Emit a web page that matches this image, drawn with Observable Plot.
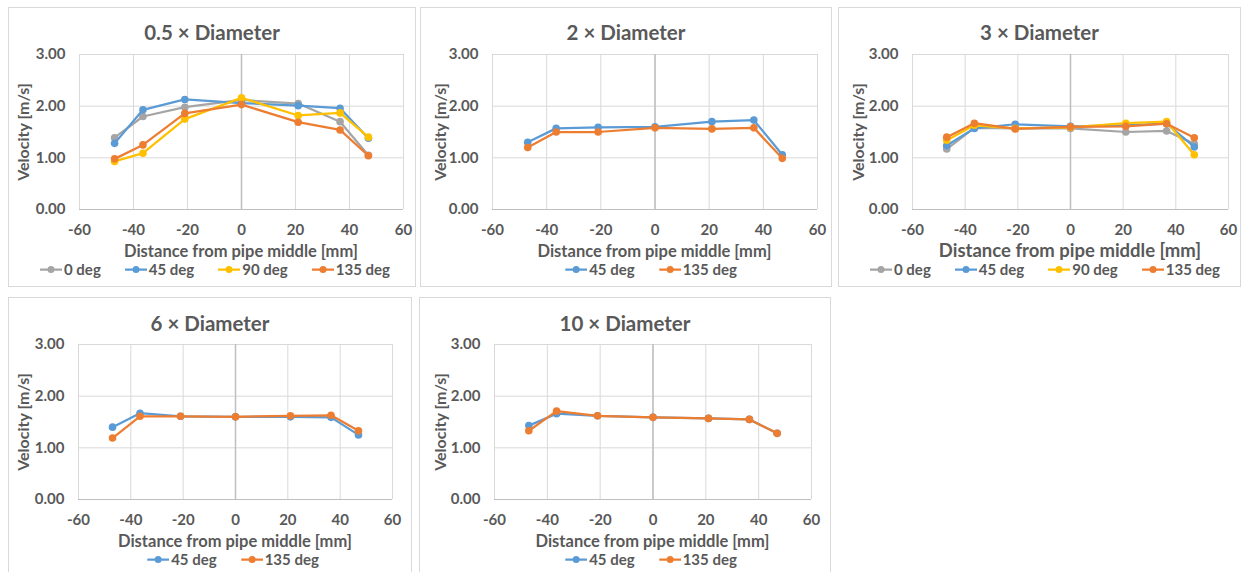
<!DOCTYPE html>
<html><head><meta charset="utf-8">
<script src="https://cdn.jsdelivr.net/npm/d3@7"></script>
<script src="https://cdn.jsdelivr.net/npm/@observablehq/plot@0.6"></script>
<style>
body{margin:0;background:#fff;font-family:Lato,"Open Sans",sans-serif;color:#595959;}
#root{position:relative;width:1243px;height:572px;overflow:hidden;background:#fff;}
.box{position:absolute;border:1px solid #d9d9d9;box-sizing:border-box;}
.t{position:absolute;white-space:nowrap;font-weight:bold;transform:translate(-50%,-50%);color:#595959;line-height:1;}
.title{font-size:20.5px;}
.yl{font-size:16px;transform:translate(-50%,-50%) rotate(-90deg);}
.leg{position:absolute;display:flex;align-items:center;gap:24px;white-space:nowrap;transform:translate(-50%,-50%);font-size:15px;font-weight:bold;color:#595959;line-height:1;}
.leg .it{display:flex;align-items:center;gap:2px;}
svg.plot{position:absolute;overflow:visible;}
</style></head>
<body><div id="root"></div>
<script>
// ---------- data ----------
const distances = [-47, -36.5, -21, 0, 21, 36.5, 47];
const seriesNames = ["0 deg", "45 deg", "90 deg", "135 deg"];
const seriesColors = ["#A5A5A5", "#5B9BD5", "#FFC000", "#ED7D31"];
const xTicks = [-60, -40, -20, 0, 20, 40, 60];
const yTicks = [0, 1, 2, 3];
const panelTitles = ["0.5 × Diameter", "2 × Diameter", "3 × Diameter", "6 × Diameter", "10 × Diameter"];
const xAxisTitle = "Distance from pipe middle [mm]";
const yAxisTitle = "Velocity [m/s]";

const v05_0deg   = [1.39, 1.80, 1.98, 2.12, 2.05, 1.70, 1.05];
const v05_45deg  = [1.28, 1.93, 2.13, 2.06, 2.01, 1.96, 1.38];
const v05_90deg  = [0.93, 1.09, 1.75, 2.16, 1.82, 1.87, 1.40];
const v05_135deg = [0.98, 1.25, 1.86, 2.03, 1.69, 1.54, 1.04];

const v2_45deg  = [1.30, 1.57, 1.59, 1.60, 1.70, 1.73, 1.06];
const v2_135deg = [1.20, 1.50, 1.50, 1.58, 1.56, 1.58, 0.99];

const v3_0deg   = [1.17, 1.58, 1.57, 1.57, 1.50, 1.52, 1.27];
const v3_45deg  = [1.24, 1.57, 1.65, 1.61, 1.63, 1.66, 1.21];
const v3_90deg  = [1.34, 1.63, 1.57, 1.59, 1.67, 1.70, 1.06];
const v3_135deg = [1.40, 1.67, 1.56, 1.60, 1.61, 1.66, 1.39];

const v6_45deg  = [1.40, 1.67, 1.61, 1.60, 1.60, 1.59, 1.25];
const v6_135deg = [1.19, 1.61, 1.61, 1.60, 1.62, 1.63, 1.33];

const v10_45deg  = [1.43, 1.66, 1.62, 1.59, 1.57, 1.55, 1.28];
const v10_135deg = [1.33, 1.71, 1.62, 1.59, 1.57, 1.55, 1.28];

// ---------- layout ----------
const layout = [
  {box:[8,7,416,287],   plot:[79,54,403,209],  titleY:32,  xlY:251, legY:269, legX:215,  ylX:23,  xlSize:16.5},
  {box:[420,7,832,287], plot:[492,54,817,209], titleY:32,  xlY:251, legY:269, legX:651,  ylX:440, xlSize:16.5},
  {box:[838,7,1241,287],plot:[912,54,1228,209],titleY:32,  xlY:250, legY:269, legX:1045, ylX:858, xlSize:18.5},
  {box:[8,297,412,580], plot:[78,344,392,499], titleY:323, xlY:541, legY:559, legX:233,  ylX:23,  xlSize:16.5},
  {box:[419,297,831,580],plot:[494,344,811,499],titleY:323, xlY:541, legY:559, legX:651,  ylX:440, xlSize:16.5}
];

const panelSeries = [
  [["0 deg", v05_0deg], ["45 deg", v05_45deg], ["90 deg", v05_90deg], ["135 deg", v05_135deg]],
  [["45 deg", v2_45deg], ["135 deg", v2_135deg]],
  [["0 deg", v3_0deg], ["45 deg", v3_45deg], ["90 deg", v3_90deg], ["135 deg", v3_135deg]],
  [["45 deg", v6_45deg], ["135 deg", v6_135deg]],
  [["45 deg", v10_45deg], ["135 deg", v10_135deg]]
];

const root = document.getElementById("root");
const colorOf = n => seriesColors[seriesNames.indexOf(n)];

function addText(cls, txt, x, y, extra) {
  const d = document.createElement("div");
  d.className = "t " + cls;
  d.textContent = txt;
  d.style.left = x + "px"; d.style.top = y + "px";
  if (extra) Object.assign(d.style, extra);
  root.appendChild(d);
  return d;
}

layout.forEach((L, i) => {
  const [bl, bt, br, bb] = L.box;
  const [pl, pt, pr, pb] = L.plot;
  const box = document.createElement("div");
  box.className = "box";
  Object.assign(box.style, {left: bl + "px", top: bt + "px", width: (br - bl) + "px", height: (bb - bt) + "px"});
  root.appendChild(box);

  addText("title", panelTitles[i], (bl + br) / 2, L.titleY);
  addText("xl", xAxisTitle, (pl + pr) / 2, L.xlY, {fontSize: L.xlSize + "px"});
  addText("yl", yAxisTitle, L.ylX, (pt + pb) / 2);

  const mTop = 12, mBot = 32;
  const marks = [
    Plot.gridX(xTicks, {stroke: "#d9d9d9", strokeOpacity: 1, strokeWidth: 1}),
    Plot.gridY(yTicks, {stroke: "#d9d9d9", strokeOpacity: 1, strokeWidth: 1}),
    Plot.ruleX([0], {stroke: "#bfbfbf", strokeWidth: 1.5}),
    Plot.ruleY([0], {stroke: "#bfbfbf", strokeWidth: 1.2}),
    Plot.axisX(xTicks, {tickSize: 0, tickPadding: 15, tickFormat: d => String(d), fontSize: 15, fontWeight: "bold", fill: "#595959", label: null}),
    Plot.axisY(yTicks, {tickSize: 0, tickPadding: 14, tickFormat: d => d.toFixed(2), fontSize: 15, fontWeight: "bold", fill: "#595959", label: null})
  ];
  panelSeries[i].forEach(([name, vals]) => {
    const rows = distances.map((x, k) => ({x, v: vals[k], s: name}));
    marks.push(Plot.line(rows, {x: "x", y: "v", stroke: "s", strokeWidth: 2.25}));
    marks.push(Plot.dot(rows, {x: "x", y: "v", fill: "s", r: 3.8}));
  });

  const svg = Plot.plot({
    width: br - bl,
    height: (pb - pt) + mTop + mBot,
    marginLeft: pl - bl, marginRight: br - pr, marginTop: mTop, marginBottom: mBot,
    x: {domain: [-60, 60], label: null},
    y: {domain: [0, 3], label: null},
    color: {domain: seriesNames, range: seriesColors},
    style: {fontFamily: "Lato, 'Open Sans', sans-serif", color: "#595959", background: "transparent", overflow: "visible"},
    marks
  });
  svg.classList.add("plot");
  svg.style.left = bl + "px";
  svg.style.top = (pt - mTop) + "px";
  root.appendChild(svg);

  const leg = document.createElement("div");
  leg.className = "leg";
  leg.style.left = L.legX + "px"; leg.style.top = L.legY + "px";
  panelSeries[i].forEach(([name]) => {
    const it = document.createElement("div");
    it.className = "it";
    const c = colorOf(name);
    it.innerHTML = `<svg width="22" height="10"><line x1="0" y1="5" x2="22" y2="5" stroke="${c}" stroke-width="2.25"/><circle cx="11" cy="5" r="3.5" fill="${c}"/></svg><span>${name}</span>`;
    leg.appendChild(it);
  });
  root.appendChild(leg);
});
</script>
</body></html>
